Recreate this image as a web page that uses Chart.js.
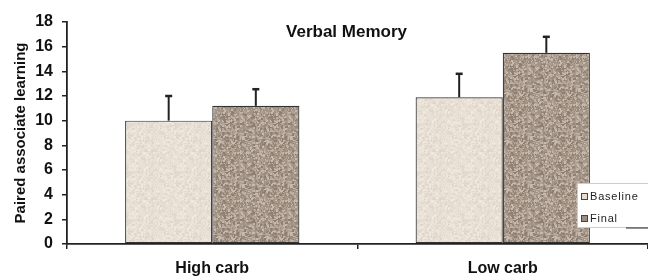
<!DOCTYPE html>
<html>
<head>
<meta charset="utf-8">
<script src="https://cdn.jsdelivr.net/npm/chart.js@4.4.1/dist/chart.umd.min.js"></script>
<style>
  html, body { margin: 0; padding: 0; background: #fff; }
  #wrap { width: 648px; height: 277px; }
</style>
</head>
<body>
<div id="wrap"><canvas id="verbalChart" width="648" height="277"></canvas></div>
<script>
'use strict';

/* data */
var groups = ['High carb', 'Low carb'];
var baseline = [10.0, 11.9];
var baselineErr = [2.0, 1.9];
var final = [11.2, 15.5];
var finalErr = [1.35, 1.3];
var yTicks = [0, 2, 4, 6, 8, 10, 12, 14, 16, 18];

var FONT = "'Liberation Sans', Arial, sans-serif";

/* speckled fill like the printed bars (texture only, fixed seed) */
function speckle(base, dots, density) {
	var c = document.createElement('canvas');
	c.width = c.height = 48;
	var g = c.getContext('2d');
	g.fillStyle = base;
	g.fillRect(0, 0, 48, 48);
	var s = 7;
	function rnd() { s = (s * 16807) % 2147483647; return s / 2147483647; }
	for (var i = 0; i < 48 * 48 * density; i++) {
		g.fillStyle = dots[Math.floor(rnd() * dots.length)];
		var sz = rnd() < 0.5 ? 1 : 2;
		g.fillRect(Math.floor(rnd() * 48), Math.floor(rnd() * 48), sz, sz);
	}
	return g.createPattern(c, 'repeat');
}

var ctx = document.getElementById('verbalChart').getContext('2d');
var baseFill = speckle('#e8e0d4', ['#eee8df', '#e0d7ca'], 0.25);
var finalFill = speckle('#a59587', ['#bcafa3', '#8e7e72', '#c7bbb0', '#978779', '#b1a397'], 0.45);

/* upward error bars, placed with the y scale */
var errorBars = {
	id: 'errorBars',
	afterDatasetsDraw: function (chart) {
		var y = chart.scales.y;
		var c = chart.ctx;
		var errs = [baselineErr, finalErr];
		c.save();
		c.strokeStyle = '#222';
		chart.data.datasets.forEach(function (ds, di) {
			chart.getDatasetMeta(di).data.forEach(function (bar, i) {
				var top = y.getPixelForValue(ds.data[i] + errs[di][i]);
				c.lineWidth = 2;
				c.beginPath();
				c.moveTo(bar.x, bar.y);
				c.lineTo(bar.x, top);
				c.stroke();
				c.lineWidth = 2.5;
				c.beginPath();
				c.moveTo(bar.x - 3.5, top);
				c.lineTo(bar.x + 3.5, top);
				c.stroke();
			});
		});
		c.restore();
	}
};

/* title inside the plot and the boxed legend at lower right */
var extras = {
	id: 'extras',
	afterDraw: function (chart) {
		var a = chart.chartArea;
		var c = chart.ctx;
		c.save();
		c.fillStyle = '#111';
		c.font = 'bold 17px ' + FONT;
		c.textAlign = 'center';
		c.textBaseline = 'middle';
		c.fillText('Verbal Memory', (a.left + a.right) / 2 - 11, 32);

		var lx = 577, ly = 183;
		c.fillStyle = '#fff';
		c.fillRect(lx, ly, 80, 44);
		c.strokeStyle = '#ccc';
		c.lineWidth = 1;
		c.strokeRect(lx + 0.5, ly + 0.5, 80, 44);
		c.strokeStyle = '#222';
		c.beginPath();
		c.moveTo(626, 228);
		c.lineTo(648, 228);
		c.stroke();

		var fills = ['#e6ddd0', '#9d8d80'];
		var names = chart.data.datasets.map(function (d) { return d.label; });
		c.font = '11px ' + FONT;
		c.textAlign = 'left';
		c.letterSpacing = '0.8px';
		names.forEach(function (n, i) {
			var ry = ly + 10 + i * 22;
			c.fillStyle = fills[i];
			c.fillRect(lx + 4, ry, 6, 6);
			c.strokeStyle = '#444';
			c.strokeRect(lx + 4.5, ry + 0.5, 6, 6);
			c.fillStyle = '#222';
			c.fillText(n, lx + 13, ry + 4);
		});
		c.restore();
	}
};

var chart = new Chart(ctx, {
	type: 'bar',
	data: {
		labels: groups,
		datasets: [{
			label: 'Baseline',
			data: baseline,
			backgroundColor: baseFill,
			borderColor: '#333',
			borderWidth: 1.2,
			borderSkipped: false
		},
		{
			label: 'Final',
			data: final,
			backgroundColor: finalFill,
			borderColor: '#333',
			borderWidth: 1.2,
			borderSkipped: false
		}]
	},
	options: {
		responsive: false,
		animation: false,
		layout: { padding: { top: 22, right: 0, bottom: 0, left: 0 } },
		categoryPercentage: 0.6,
		barPercentage: 1.0,
		plugins: {
			legend: { display: false },
			tooltip: { enabled: false }
		},
		scales: {
			x: {
				afterFit: function (s) { s.height = 33; },
				grid: { drawOnChartArea: false, tickLength: 5, color: '#222', lineWidth: 1.5 },
				border: { color: '#222', width: 1.8 },
				ticks: { color: '#111', padding: 10, font: { family: FONT, size: 16, weight: 'bold' } }
			},
			y: {
				min: 0,
				max: 18,
				afterFit: function (s) { s.width = 67; },
				afterBuildTicks: function (s) { s.ticks = yTicks.map(function (v) { return { value: v }; }); },
				grid: { drawOnChartArea: false, tickLength: 5, color: '#222', lineWidth: 1.5 },
				border: { color: '#222', width: 1.8 },
				ticks: { color: '#111', padding: 9, font: { family: FONT, size: 16, weight: 'bold' } },
				title: {
					display: true,
					text: 'Paired associate learning',
					color: '#111',
					padding: { top: 12, bottom: 0 },
					font: { family: FONT, size: 15, weight: 'bold' }
				}
			}
		}
	},
	plugins: [errorBars, extras]
});
</script>
</body>
</html>
